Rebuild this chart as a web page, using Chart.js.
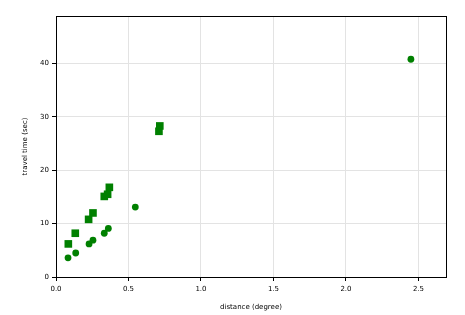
<!DOCTYPE html>
<html>
<head>
<meta charset="utf-8">
<script src="https://cdn.jsdelivr.net/npm/chart.js@4"></script>
<style>
  html, body { margin: 0; padding: 0; background: #fff; }
  #wrap { width: 465px; height: 315px; }
</style>
</head>
<body>
<div id="wrap"><canvas id="chart" width="465" height="315"></canvas></div>
<script>
// circles
const circleX = [0.083, 0.136, 0.228, 0.255, 0.333, 0.361, 0.547, 2.448];
const circleY = [3.6, 4.5, 6.2, 6.9, 8.2, 9.1, 13.1, 40.8];
// squares
const squareX = [0.085, 0.133, 0.225, 0.255, 0.333, 0.356, 0.368, 0.710, 0.716];
const squareY = [6.2, 8.2, 10.8, 12.0, 15.1, 15.5, 16.8, 27.3, 28.3];

const xTicks = [0, 0.5, 1.0, 1.5, 2.0, 2.5];
const yTicks = [0, 10, 20, 30, 40];

const green = "#008000";
const tickFont = { family: "DejaVu Sans", size: 7 };

function toPoints(xs, ys) {
    return xs.map((x, i) => ({ x: x, y: ys[i] }));
}

// box round the plot area
const frame = {
    id: "frame",
    afterDraw(chart) {
        const a = chart.chartArea;
        const ctx = chart.ctx;
        ctx.save();
        ctx.strokeStyle = "#000";
        ctx.lineWidth = 1;
        ctx.strokeRect(a.left + 0.5, a.top + 0.5, a.right - a.left, a.bottom - a.top);
        ctx.restore();
    }
};

new Chart(document.getElementById("chart"), {
    type: "scatter",
    data: {
        datasets: [
            {
                data: toPoints(circleX, circleY),
                pointStyle: "circle",
                pointRadius: 3.4,
                backgroundColor: green,
                borderColor: green,
                borderWidth: 0
            },
            {
                data: toPoints(squareX, squareY),
                pointStyle: "rect",
                pointRadius: 5.4,
                backgroundColor: green,
                borderColor: green,
                borderWidth: 0
            }
        ]
    },
    options: {
        responsive: false,
        animation: false,
        layout: { padding: { top: 16, right: 19, left: 17, bottom: 0 } },
        plugins: { legend: { display: false }, tooltip: { enabled: false } },
        scales: {
            x: {
                type: "linear",
                min: 0,
                max: 2.69,
                afterBuildTicks: axis => { axis.ticks = xTicks.map(v => ({ value: v })); },
                afterFit: axis => { axis.height = 38; },
                ticks: {
                    color: "#000",
                    font: tickFont,
                    padding: 4,
                    maxRotation: 0,
                    callback: v => v.toFixed(1)
                },
                grid: { color: "#e3e3e3", tickColor: "#000", tickLength: 4, lineWidth: 1 },
                border: { display: true, color: "#000" },
                title: { display: true, text: "distance (degree)", color: "#000", font: tickFont, padding: { top: 2 } }
            },
            y: {
                type: "linear",
                min: 0,
                max: 48.9,
                afterBuildTicks: axis => { axis.ticks = yTicks.map(v => ({ value: v })); },
                afterFit: axis => { axis.width = 39; },
                ticks: { color: "#000", font: tickFont, padding: 3 },
                grid: { color: "#e3e3e3", tickColor: "#000", tickLength: 4, lineWidth: 1 },
                border: { display: true, color: "#000" },
                title: { display: true, text: "travel time (sec)", color: "#000", font: tickFont, padding: { top: 4, bottom: 4 } }
            }
        }
    },
    plugins: [frame]
});
</script>
</body>
</html>
